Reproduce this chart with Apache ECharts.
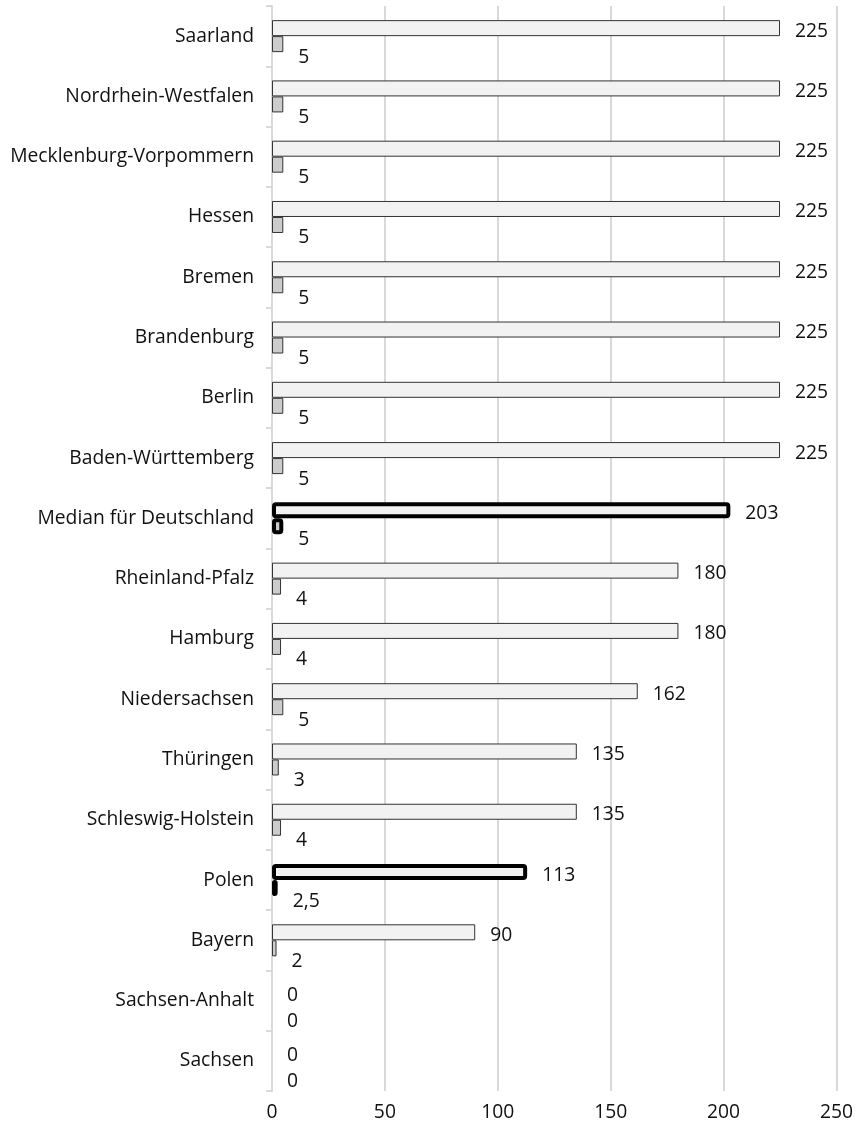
<!DOCTYPE html>
<html>
<head>
<meta charset="utf-8">
<script src="https://cdn.jsdelivr.net/npm/echarts@6/dist/echarts.min.js"></script>
<style>
  html, body { margin: 0; padding: 0; background: #fff; }
  #chart { width: 856px; height: 1130px; }
</style>
</head>
<body>
<div id="chart"></div>
<script>
// Federal states plus two reference rows (German median, Poland)
const categories = [
  'Saarland', 'Nordrhein-Westfalen', 'Mecklenburg-Vorpommern', 'Hessen',
  'Bremen', 'Brandenburg', 'Berlin', 'Baden-Württemberg',
  'Median für Deutschland', 'Rheinland-Pfalz', 'Hamburg', 'Niedersachsen',
  'Thüringen', 'Schleswig-Holstein', 'Polen', 'Bayern',
  'Sachsen-Anhalt', 'Sachsen'
];
const valuesMain = [225, 225, 225, 225, 225, 225, 225, 225, 203, 180, 180, 162, 135, 135, 113, 90, 0, 0];
const valuesSmall = [5, 5, 5, 5, 5, 5, 5, 5, 5, 4, 4, 5, 3, 4, 2.5, 2, 0, 0];
const xTicks = [0, 50, 100, 150, 200, 250];

// Rows drawn with a heavy outline
const highlighted = ['Median für Deutschland', 'Polen'];

const FONT = 'Open Sans';
const FS = 19.3;
const fmt = v => String(v).replace('.', ',');

function buildData(values, fill) {
  return values.map((v, i) => {
    const hi = highlighted.includes(categories[i]);
    let style;
    if (v === 0) style = { color: fill, borderWidth: 0 };
    else if (hi) style = { color: fill, borderColor: '#000', borderWidth: 4, borderRadius: 2 };
    else style = { color: fill, borderColor: '#333', borderWidth: 1 };
    return { value: v, itemStyle: style };
  });
}

const chart = echarts.init(document.getElementById('chart'));
chart.setOption({
  animation: false,
  grid: { left: 272, right: 19, top: 6, bottom: 39, containLabel: false },
  xAxis: {
    type: 'value',
    min: xTicks[0],
    max: xTicks[xTicks.length - 1],
    interval: 50,
    axisLine: { show: false },
    axisTick: { show: false },
    splitLine: { lineStyle: { color: '#d9d9d9', width: 2 } },
    axisLabel: { color: '#111', fontFamily: FONT, fontSize: FS, margin: 12 }
  },
  yAxis: {
    type: 'category',
    data: categories,
    inverse: true,
    axisLine: { show: true, lineStyle: { color: '#d9d9d9', width: 2 } },
    axisTick: { show: true, length: 6, lineStyle: { color: '#d9d9d9', width: 2 } },
    axisLabel: { color: '#111', fontFamily: FONT, fontSize: FS, margin: 18, padding: [8, 0, 0, 0] }
  },
  series: [
    {
      type: 'bar',
      data: buildData(valuesMain, '#f2f2f2'),
      barWidth: 16,
      barGap: '0%',
      label: {
        show: true, position: 'right', distance: 15, offset: [0, 3],
        color: '#111', fontFamily: FONT, fontSize: FS,
        formatter: p => fmt(p.value)
      }
    },
    {
      type: 'bar',
      data: buildData(valuesSmall, '#cccccc'),
      barWidth: 16,
      barGap: '0%',
      label: {
        show: true, position: 'right', distance: 15, offset: [0, 13],
        color: '#111', fontFamily: FONT, fontSize: FS,
        formatter: p => fmt(p.value)
      }
    }
  ]
});
</script>
</body>
</html>
